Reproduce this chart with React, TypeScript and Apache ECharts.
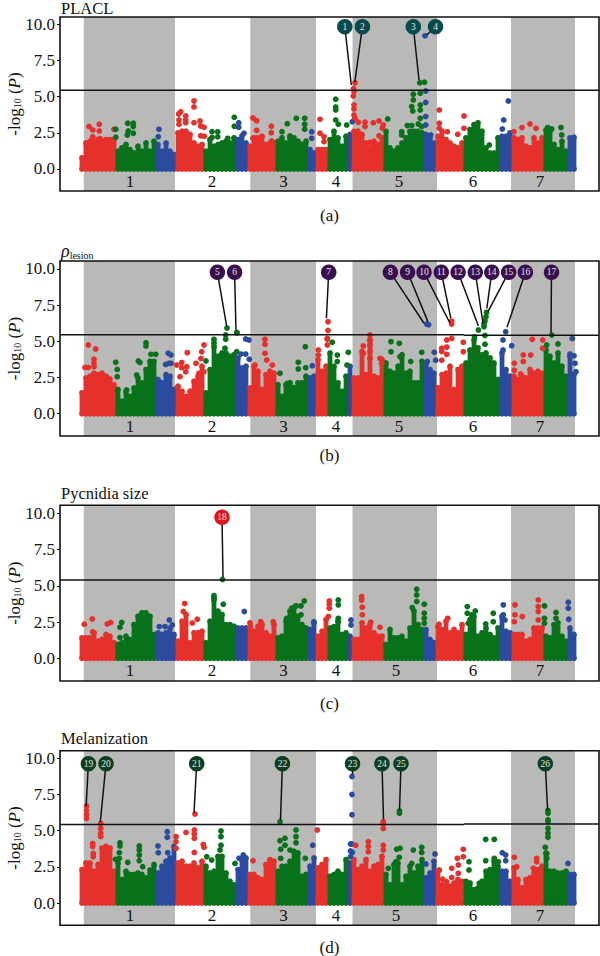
import React, { useEffect, useRef } from "react";
import * as echarts from "echarts";

const FONT = "Liberation Serif";
const RED = "#e6302b";
const GREEN = "#08721a";
const BLUE = "#2a4b9f";
const BAND = "#b9b9b8";
const INK = "#111111";

const genomeBins = [
  82, 86, 90, 94, 98, 102, 106, 110, 114, 118, 122, 126, 130, 134, 138, 142, 146, 150, 154, 158, 162, 166, 170, 174, 178,
  182, 186, 190, 194, 198, 202, 206, 210, 214, 218, 222, 226, 230, 234, 238, 242, 246, 250, 254, 258, 262, 266, 270, 274,
  278, 282, 286, 290, 294, 298, 302, 306, 310, 314, 318, 322, 326, 330, 334, 338, 342, 346, 350, 354, 358, 362, 366, 370,
  374, 378, 382, 386, 390, 394, 398, 402, 406, 410, 414, 418, 422, 426, 430, 434, 438, 442, 446, 450, 454, 458, 462, 466,
  470, 474, 478, 482, 486, 490, 494, 498, 502, 506, 510, 514, 518, 522, 526, 530, 534, 538, 542, 546, 550, 554, 558, 562,
  566, 570, 574,
];
const subgenomeEnds = [115, 156, 175.5, 204.5, 238, 250, 274.5, 310, 316, 330, 350, 352.5, 385, 425, 437, 465, 500, 512, 544, 568, 578];
const greyChromosomes = [[83.8, 175], [250.3, 316], [352.5, 437], [511, 575]];
const chromosomeNames = ["1", "2", "3", "4", "5", "6", "7"];
const chromosomeCentresUpper = [130, 212, 283.6, 336, 399, 473, 540];
const chromosomeCentresLower = [130, 212, 283.6, 336, 396, 473, 540];
const tickValues = [0, 2.5, 5, 7.5, 10];

const massA = [0.97,2.0,2.12,2.12,2.23,2.12,2.23,2.23,2.23,1.43,1.66,1.89,1.54,1.31,1.77,1.43,2.0,1.43,2.12,1.89,1.43,2.0,1.43,1.2,2.7,2.81,2.81,2.58,2.0,1.77,1.89,1.43,2.23,1.77,1.89,2.0,2.12,2.0,2.35,2.23,2.5,2.0,1.77,2.35,2.35,2.47,1.89,2.0,2.0,2.12,2.35,2.0,2.35,2.35,2.12,1.89,2.12,1.54,1.31,1.54,1.54,1.54,2.23,2.81,2.35,1.77,2.47,2.58,2.8,2.81,2.58,2.0,1.66,2.12,1.89,2.35,2.8,1.66,1.43,1.66,2.0,2.35,2.8,2.8,2.8,2.7,2.58,2.35,2.0,2.47,2.81,2.23,2.0,1.77,1.66,2.0,2.35,2.93,3.27,3.39,2.81,1.66,1.31,1.31,2.35,2.47,2.47,2.7,2.35,2.23,2.35,1.77,1.66,2.35,2.0,2.35,2.9,2.8,1.89,1.54,2.12,1.43,2.35,2.4];
const massB = [1.64,2.67,2.79,2.79,2.9,3.0,2.79,2.6,2.2,1.87,1.06,1.75,1.4,1.98,2.67,2.33,3.25,3.82,3.82,2.56,2.33,2.9,2.79,1.87,2.1,1.75,1.4,1.75,2.44,2.79,3.48,1.64,3.25,5.1,4.17,4.4,4.4,4.17,4.28,4.06,3.36,3.48,1.98,3.48,3.13,1.87,2.9,3.13,3.0,2.2,1.4,2.2,2.33,2.0,2.33,2.33,2.79,2.67,2.79,3.94,3.13,3.48,4.4,3.48,2.33,1.75,2.79,3.48,2.67,2.67,4.5,2.9,5.3,2.79,2.67,3.94,3.7,3.13,3.0,3.48,4.28,3.0,3.13,2.33,2.33,3.82,3.6,3.25,3.0,2.0,2.9,3.0,3.48,1.87,3.25,3.48,3.7,4.6,5.3,4.75,4.28,4.4,4.06,3.7,2.56,4.4,3.25,2.79,2.79,2.56,2.79,2.67,3.25,3.0,3.13,3.0,4.6,4.17,3.7,4.4,3.48,2.79,4.17,2.9];
const massC = [1.61,1.61,1.61,1.96,1.38,1.5,1.84,1.73,1.27,1.15,1.27,1.73,1.5,2.53,3.11,3.34,3.34,3.11,1.84,1.96,1.84,1.96,2.3,1.84,1.38,2.76,3.23,1.27,1.96,1.96,2.07,1.27,2.76,4.38,3.46,3.23,2.53,2.53,2.42,2.3,2.3,2.3,2.65,2.07,2.42,2.53,1.96,1.73,2.53,1.61,1.73,2.76,3.46,3.69,3.11,2.53,2.3,2.19,2.65,1.73,2.07,2.88,2.3,2.19,2.76,1.84,1.96,1.73,1.5,1.5,2.65,2.3,2.53,1.96,1.73,1.73,1.15,2.19,1.61,1.61,1.73,1.38,2.3,3.46,2.53,2.19,2.19,1.5,1.27,2.42,2.19,2.76,1.96,2.19,1.96,2.53,1.84,2.88,3.11,1.73,1.96,2.3,1.84,1.61,2.3,3.11,2.07,1.96,1.84,1.84,1.84,1.38,1.5,2.3,2.3,2.3,1.73,1.61,2.53,2.65,1.73,1.38,2.3,1.84];
const massD = [2.51,2.97,2.97,2.4,2.86,4.0,4.12,4.0,2.4,2.97,1.82,2.4,2.17,2.17,2.28,2.17,1.94,2.28,2.86,2.28,2.74,3.09,3.32,4.12,2.97,3.09,2.74,2.74,2.97,2.63,3.09,2.74,2.28,2.4,3.43,3.43,2.28,1.7,1.47,2.51,3.2,3.32,2.17,2.17,1.94,1.82,2.86,3.2,3.09,2.4,2.74,2.74,3.09,3.78,3.66,2.05,2.17,2.74,3.32,2.63,2.86,3.2,2.05,2.17,2.4,2.17,3.2,2.97,3.2,2.51,2.74,3.2,2.4,2.74,2.86,3.43,2.17,1.47,2.86,2.97,1.47,2.05,2.74,2.28,2.74,3.2,1.94,2.28,3.09,2.4,1.47,1.36,1.36,1.59,1.82,1.7,1.7,1.59,1.13,1.24,1.7,2.4,2.51,3.09,2.74,2.4,2.4,1.7,2.63,1.82,1.24,1.82,1.94,2.28,2.51,2.74,3.66,2.4,2.4,2.28,2.28,2.4,2.17,2.17];

const peaksA = [
  [89,2.93],[92.7,2.7],[99.3,3.09],[99.3,2.63],[92.7,2.23],[100,2.1],[114,2.74],[115.7,2.74],[115.7,2.2],[127.7,3.16],[133.3,3.16],[133.3,2.93],[128.3,2.63],[133.3,2.47],[127.3,2.35],[159,2.74],[158.3,2.23],
  [194,4.7],[194,4.29],[180.7,3.96],[178.7,3.8],[185.7,3.66],[185.7,3.39],[185.7,3.2],[179,3.39],[179,3.09],[194,3.2],[200,3.32],[200.7,2.97],[204,2.88],[200.7,2.3],[204.3,2.26],[212,2.58],[217.7,2.58],[212,2.17],[217.7,2.23],[227.7,2.12],[234.3,3.57],[234.3,2.95],[238.7,3.2],[238.7,2.88],[244,2.47],
  [253,3.53],[256.7,3.34],[256.7,2.67],[253,2.12],[271.3,2.95],[271.3,2.51],[271.7,1.94],[287.3,3.13],[296.3,3.5],[304.7,3.5],[304.7,3.09],[304.7,2.74],[282,2.58],[290,2.28],[311.7,2.58],[311.7,2.12],[320,3.43],[320,2.47],[324,2.23],[324,1.89],
  [335.7,4.82],[335.7,4.29],[335.7,4.08],[335.7,3.39],[338.3,3.09],[346.7,3.04],[352.3,3.27],[355,5.95],[353.5,5.55],[354,5.35],[353.3,5.05],[354,4.42],[354,4.15],[354,3.73],[355,3.5],[358.3,3.23],[365,3.23],[365,2.93],[373.3,3.2],[379,3.32],[383.3,3.04],[382.3,2.81],[370,1.84],[379,2.3],
  [387.7,3.46],[401.7,2.58],[401.7,2.35],[407.3,3.0],[411.7,3.0],[413.3,5.16],[413.3,4.77],[411.7,4.31],[412.7,4.0],[420.3,5.23],[420.3,4.42],[420.3,4.08],[420.3,3.5],[418.3,3.11],[421.7,2.93],[419.8,5.96],[424.5,6.0],[425.7,5.39],[425.7,4.59],[425.7,3.62],[425.7,3.04],[430.7,2.35],[425,9.2],
  [439.3,4.08],[439.3,3.16],[439.3,2.81],[464,3.66],[464,2.81],[447.3,2.58],[457.7,2.4],[489.3,1.66],[508.3,4.7],[503.7,3.39],[502.3,2.76],[530,3.11],[522,2.86],[536,2.81],[514,2.58],[547.7,2.86],[551.7,2.76],[561,2.86],[561.7,2.35],
];
const peaksB = [
  [88.3,4.75],[95.7,4.47],[94,3.76],[94,3.48],[94,3.25],[85,3.2],[88.3,3.2],[94,2.79],[115.7,3.55],[117.3,3.06],[117.3,2.56],[126.7,1.64],[136.7,2.67],[138.3,3.64],[140,3.53],[146,4.9],[146,4.68],[151,4.1],[155.7,4.1],
  [168.3,4.17],[171,4.05],[169,3.48],[165.7,3.4],[171,3.48],[187.3,4.22],[176.7,3.36],[181.7,3.53],[181.7,3.18],[186.7,3.25],[185.7,2.9],[180,2.56],[196,3.48],[204,4.75],[201.7,4.28],[201,3.82],[199,2.79],[204,2.9],
  [206,3.64],[214,5.14],[214,4.63],[225.7,5.44],[225.7,5.14],[236.7,5.6],[225,4.52],[236.7,4.28],[227,5.92],[237,5.6],[245.7,5.16],[249,5.09],[245.7,4.12],[241,4.12],[249.3,3.76],[265,5.14],[265,4.8],[265,4.17],[266.7,3.71],[255,3.36],[272.3,3.36],
  [305.3,4.63],[298.3,3.55],[298.3,3.09],[280,2.79],[287.3,2.1],[305.7,3.18],[312.3,3.32],[318.3,4.4],[318.3,4.05],[328,6.36],[328,5.75],[327.3,5.2],[327.3,4.75],[327.3,5.14],[332.3,4.93],[337.3,4.05],[337.3,3.6],[348.3,4.24],[347,3.36],
  [363.3,4.68],[363.3,4.17],[370,5.44],[370,5.09],[370,4.75],[370,4.28],[370,3.82],[380,3.82],[381.7,3.48],[391,4.98],[399.3,4.86],[391,4.28],[400,3.94],[410.7,3.6],[421.7,4.24],[434.3,4.24],[435.7,3.7],[427.3,3.6],[426.7,6.2],[428.6,6.15],
  [446.7,5.09],[446.7,4.6],[446.7,4.1],[441.7,4.52],[441.7,4.3],[441.7,3.7],[451.7,5.2],[463.3,4.93],[463.3,4.28],[451.6,6.2],[451.6,6.4],[478.4,5.78],[484,6.0],[484,6.2],[486.5,7.0],[486,6.7],[485,6.4],[474.5,5.3],[485,5.4],[485,4.8],
  [503,5.09],[505.7,5.67],[503,4.4],[511.7,4.7],[514.3,3.48],[514.3,3.0],[520.7,2.74],[523.3,4.05],[523.3,3.6],[530.7,4.05],[532.3,5.14],[542.7,5.09],[542.7,4.52],[551.7,5.44],[546.7,4.75],[558,4.82],[572.3,5.2],[570,4.12],[575,3.48],[576,2.9],[574,4.0],
];
const peaksC = [
  [84.3,2.35],[92.3,2.72],[92.7,1.84],[107.3,2.37],[110.7,2.47],[120,1.43],[121.7,2.47],[120,2.14],[159.3,2.19],[165,2.19],[169.3,2.65],[172.3,2.3],[184.7,3.78],[183.3,3.23],[197.3,2.7],[192.3,2.44],[214,4.33],[214,4.03],[223.3,3.73],[244.3,3.23],[250.3,2.19],[260.7,2.53],[273.3,2.53],
  [304.3,3.96],[301,3.62],[296,3.62],[291.7,3.46],[301,3.0],[286.7,2.76],[314,2.53],[329.3,3.96],[329.3,3.73],[329.3,3.46],[328.3,2.88],[338.3,4.03],[338.3,3.69],[338.3,2.76],[338.3,2.53],[334,2.19],[351,2.65],[351,2.3],
  [361.7,4.26],[361.7,4.03],[362.3,3.53],[362.3,3.0],[370.7,2.49],[380,2.14],[416.7,4.77],[416.7,4.38],[416.7,3.92],[412.3,3.5],[424.3,3.73],[424.3,3.11],[424.3,2.76],[424.3,2.42],[447.7,2.76],[439,2.35],
  [467.3,3.57],[467.3,3.11],[475.3,3.27],[471.7,3.0],[468.3,2.42],[493.3,3.11],[493.3,2.53],[485.7,2.37],[503.3,3.69],[503.3,3.0],[505,2.65],[515,3.69],[515,3.0],[514.3,2.53],[522.3,2.88],[538.3,4.03],[538.3,3.57],[538.3,3.23],[538.3,2.65],
  [544.5,3.62],[544.5,2.76],[544.5,2.42],[556,3.16],[556,2.76],[568.3,3.87],[568.3,3.46],[568.7,2.7],[222.5,5.45],
];
const peaksD = [
  [100.7,5.5],[100.7,5.16],[100.7,4.82],[100.7,4.6],[86.5,6.7],[86.5,6.4],[86.5,6.1],[86.5,5.85],[92.7,4.12],[92.7,3.9],[93.3,3.43],[93.3,3.2],[120,4.17],[120,3.94],[119.3,3.48],[119.3,3.09],[115.5,3.02],[127.7,2.81],[139.3,3.94],[139.3,3.66],[139.3,3.32],[139.3,2.93],[142.7,2.51],[150,2.28],
  [167.3,4.93],[167.3,4.54],[158,3.94],[158.3,3.48],[167.7,3.48],[176,4.59],[176,4.24],[176,3.78],[186,4.88],[194.3,5.05],[194.3,4.77],[194.3,4.47],[194.3,3.5],[195,6.15],[203.3,4.05],[204,3.85],[221,4.98],[221,4.59],[221,4.0],[220,3.66],[211.7,2.97],[206.7,3.2],[235,2.74],[239,3.09],[243.3,3.32],[243.3,2.86],[253,2.93],
  [280,5.62],[280,4.31],[285,4.47],[285,4.0],[296,5.05],[296,4.59],[296,4.17],[290,3.66],[280.7,3.71],[280.7,3.09],[305.3,3.09],[312.7,4.0],[317.3,5.05],[352,8.75],[352,7.5],[352,6.1],[350.5,4.08],[351.7,4.08],[352.3,3.5],[350.5,3.6],[350.5,3.2],
  [355.7,4.0],[368.3,4.24],[368.3,3.9],[368.3,3.55],[383.3,4.0],[383.3,3.66],[383.3,5.62],[383.3,5.45],[383.3,5.15],[400,3.78],[396.7,3.71],[399.3,3.16],[396,2.86],[388.3,2.4],[413.3,3.66],[421.7,3.85],[421.7,3.5],[411.7,2.74],[399.5,6.36],[399.5,6.2],[435,3.39],[426,2.7],
  [463.3,3.71],[463.3,3.2],[457.3,3.09],[458.3,2.63],[458.3,2.05],[451.7,2.4],[451.7,1.77],[439.3,2.28],[442.7,1.64],[446.7,1.47],[469,2.86],[469,2.28],[479.3,1.36],[485.7,4.4],[494.3,4.4],[485.7,2.93],[494.3,3.09],[498.3,2.86],[502.3,3.48],[505.7,3.32],[505.7,2.93],
  [514.3,3.16],[516.7,2.51],[536.7,3.09],[536.7,2.86],[533.3,2.4],[548,6.4],[548,6.2],[548,5.75],[548,5.63],[548,5.16],[548,4.82],[548,4.54],[545.3,3.85],[546.7,3.43],[546.7,3.09],[568,2.74],
];

// [number, bubble x, bubble y, SNP x, SNP y]
const callsA = [[1,344.8,9.83,351.3,5.8],[2,362.4,9.83,354.8,6.0],[3,413.3,9.83,419,6.15],[4,435.5,9.83,426.7,9.26]];
const callsB = [[5,217.4,9.77,226.6,6.06],[6,234.6,9.77,236,5.74],[7,328.7,9.77,326.4,6.59],[8,390.4,9.77,424,6.25],[9,407.6,9.77,427.9,6.36],[10,424,9.77,450,6.25],[11,441.3,9.77,450.8,6.6],[12,458.1,9.77,478.4,6.06],[13,475.3,9.77,483,6.25],[14,491.8,9.77,486.8,7.28],[15,508.6,9.77,488,7.05],[16,525.4,9.77,507,5.97],[17,551.5,9.77,551,5.6]];
const callsC = [[18,222,9.74,223,5.6]];
const callsD = [[19,88.4,9.63,86.1,6.7],[20,106,9.63,100.3,5.6],[21,196.7,9.63,194,6.24],[22,282.4,9.63,280.5,5.74],[23,352.5,9.63,352.5,8.9],[24,382,9.63,383.5,5.78],[25,401,9.63,399.5,6.4],[26,545.3,9.63,547.6,6.4]];

// threshold runs as [x from, x to, -log10 P]
const thresholdA = [[60, 599, 5.44]];
const thresholdB = [[60, 464, 5.46], [464, 599, 5.42]];
const thresholdC = [[60, 599, 5.41]];
const thresholdD = [[60, 464, 5.42], [464, 599, 5.47]];

const panels = [
  { title: "PLACL", titleTop: 0, caption: "(a)", captionTop: 207, top: 17, height: 174, min: -1.52, max: 10.5, mass: massA, peaks: peaksA, calls: callsA, bubble: "#0a4a4d", threshold: thresholdA, centres: chromosomeCentresUpper },
  { title: "{rho|ρ}{sub|lesion}", titleTop: 241, caption: "(b)", captionTop: 447, top: 261, height: 175, min: -1.54, max: 10.55, mass: massB, peaks: peaksB, calls: callsB, bubble: "#3a0f4f", threshold: thresholdB, centres: chromosomeCentresUpper },
  { title: "Pycnidia size", titleTop: 485, caption: "(c)", captionTop: 695, top: 505.3, height: 175.7, min: -1.57, max: 10.57, mass: massC, peaks: peaksC, calls: callsC, bubble: "#e0141c", threshold: thresholdC, centres: chromosomeCentresLower },
  { title: "Melanization", titleTop: 730, caption: "(d)", captionTop: 939, top: 750.7, height: 174.6, min: -1.54, max: 10.53, mass: massD, peaks: peaksD, calls: callsD, bubble: "#0b3f22", threshold: thresholdD, centres: chromosomeCentresLower },
];

function colourAt(x: number) {
  let i = subgenomeEnds.findIndex((end) => x < end);
  if (i < 0) i = subgenomeEnds.length - 1;
  return [RED, GREEN, BLUE][i % 3];
}

function renderColumn(_params: any, api: any) {
  const x = api.value(0);
  const top = api.coord([x, api.value(1)]);
  const base = api.coord([x, 0]);
  const fill = colourAt(x);
  const r = 2.9;
  return {
    type: "group",
    children: [
      { type: "rect", shape: { x: top[0] - 2.4, y: top[1] + r, width: 4.8, height: Math.max(0, base[1] - top[1] - r) }, style: { fill } },
      { type: "circle", shape: { cx: top[0], cy: top[1] + r, r }, style: { fill } },
      { type: "circle", shape: { cx: top[0], cy: base[1], r }, style: { fill } },
    ],
  };
}

function buildOption() {
  const series: any[] = [];
  panels.forEach((p, i) => {
    const common = { xAxisIndex: i, yAxisIndex: i, silent: true, animation: false };
    series.push({
      ...common,
      type: "scatter",
      data: [],
      z: 1,
      markArea: {
        silent: true,
        itemStyle: { color: BAND },
        data: greyChromosomes.map(([a, b]) => [{ xAxis: a }, { xAxis: b }]),
      },
    });
    series.push({
      ...common,
      type: "custom",
      z: 3,
      clip: false,
      renderItem: renderColumn,
      encode: { x: 0, y: 1 },
      data: genomeBins.map((x, k) => [x, p.mass[k]]),
    });
    series.push({
      ...common,
      type: "scatter",
      symbolSize: 5.8,
      z: 4,
      itemStyle: { opacity: 1 },
      data: p.peaks.map(([x, y]) => ({ value: [x, y], itemStyle: { color: colourAt(x), opacity: 1 } })),
    });
    series.push({
      ...common,
      type: "line",
      z: 5,
      showSymbol: false,
      lineStyle: { color: INK, width: 1.5 },
      data: p.threshold.flatMap(([a, b, y]) => [[a, y], [b, y], [b, null]]),
    });
    series.push({
      ...common,
      type: "line",
      z: 6,
      showSymbol: false,
      lineStyle: { color: "#111", width: 1.5 },
      data: p.calls.flatMap(([, bx, by, sx, sy]) => [[bx, by], [sx, sy], [sx, null]]),
    });
    series.push({
      ...common,
      type: "scatter",
      z: 7,
      symbolSize: 15.5,
      itemStyle: { color: p.bubble, opacity: 1 },
      label: {
        show: true,
        position: "inside",
        formatter: (o: any) => String(o.value[2]),
        color: "#e4e4e4",
        fontFamily: FONT,
        fontSize: 9.5,
      },
      data: p.calls.map(([n, bx, by]) => [bx, by, n]),
    });
    series.push({
      ...common,
      type: "scatter",
      z: 7,
      symbolSize: 1,
      itemStyle: { color: "rgba(0,0,0,0)", opacity: 1 },
      label: {
        show: true,
        position: "inside",
        formatter: (o: any) => chromosomeNames[o.dataIndex],
        color: INK,
        fontFamily: FONT,
        fontSize: 17,
      },
      data: p.centres.map((x) => [x, -0.85]),
    });
  });
  return {
    animation: false,
    backgroundColor: "#ffffff",
    title: panels.flatMap((p) => [
      {
        text: p.title,
        left: 61,
        top: p.titleTop,
        padding: 0,
        textStyle: {
          fontFamily: FONT,
          fontSize: 16.5,
          fontWeight: "normal",
          color: INK,
          rich: {
            rho: { fontFamily: FONT, fontSize: 18, fontStyle: "italic", color: INK },
            sub: { fontFamily: FONT, fontSize: 10, color: INK, verticalAlign: "bottom", padding: [9, 0, 0, 0] },
          },
        },
      },
      {
        text: p.caption,
        left: 329.5,
        top: p.captionTop,
        padding: 0,
        textAlign: "center",
        textStyle: { fontFamily: FONT, fontSize: 17, fontWeight: "normal", color: INK },
      },
    ]),
    graphic: panels.map((p) => ({
      type: "text",
      x: 14,
      y: p.top + p.height / 2,
      rotation: Math.PI / 2,
      silent: true,
      style: {
        text: "-log{sub|10} ({it|P})",
        align: "center",
        verticalAlign: "middle",
        fill: INK,
        fontFamily: FONT,
        fontSize: 17,
        rich: {
          sub: { fontFamily: FONT, fontSize: 10, fill: INK, verticalAlign: "bottom", padding: [6, 0, 0, 0] },
          it: { fontFamily: FONT, fontSize: 17, fontStyle: "italic", fill: INK },
        },
      },
    })),
    grid: panels.map((p) => ({
      left: 60,
      width: 539,
      top: p.top,
      height: p.height,
      outerBoundsMode: "none",
      show: true,
      borderColor: INK,
      borderWidth: 1.6,
      backgroundColor: "transparent",
      z: 8,
    })),
    xAxis: panels.map((_, i) => ({
      type: "value",
      gridIndex: i,
      min: 60,
      max: 599,
      show: false,
    })),
    yAxis: panels.map((p, i) => ({
      type: "value",
      gridIndex: i,
      min: p.min,
      max: p.max,
      splitLine: { show: false },
      axisLine: { show: false },
      axisTick: { show: true, length: 3, lineStyle: { color: INK, width: 1 }, customValues: tickValues },
      axisLabel: {
        color: INK,
        fontFamily: FONT,
        fontSize: 17,
        margin: 5,
        customValues: tickValues,
        formatter: (v: number) => v.toFixed(1),
      },
    })),
    series,
  };
}

export default function App() {
  const ref = useRef<HTMLDivElement>(null);
  useEffect(() => {
    const chart = echarts.init(ref.current!, undefined, { renderer: "svg" });
    chart.setOption(buildOption() as any);
    return () => chart.dispose();
  }, []);
  return <div ref={ref} style={{ position: "absolute", left: 0, top: 0, width: 600, height: 956 }} />;
}
